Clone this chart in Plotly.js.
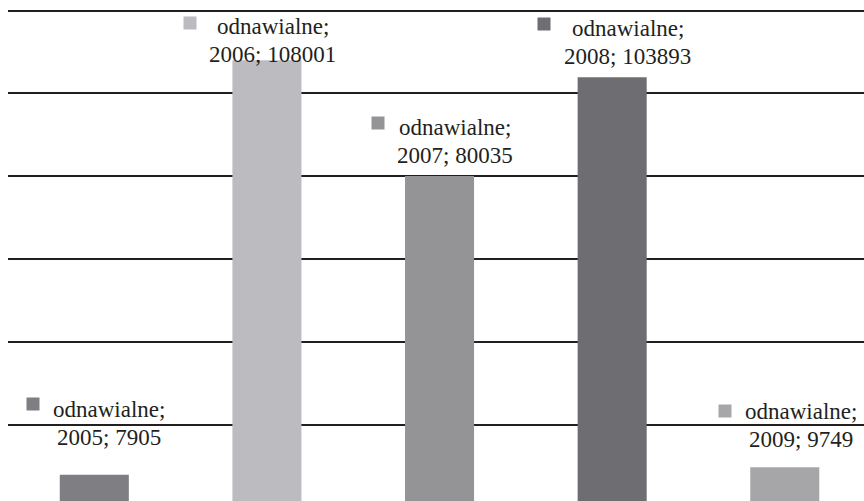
<!DOCTYPE html>
<html>
<head>
<meta charset="utf-8">
<script src="https://cdn.plot.ly/plotly-3.0.1.min.js"></script>
<style>html,body{margin:0;padding:0;overflow:hidden;background:#fff}#chart{width:864px;height:501px}</style>
</head>
<body>
<div id="chart"></div>
<script>
// Data
const categories = ['2005', '2006', '2007', '2008', '2009'];
const seriesName = 'odnawialne';
const values = [7905, 108001, 80035, 103893, 9749];
const barColors = ['#7f7f83', '#bcbcc0', '#949497', '#6e6e72', '#a6a6a9'];

// Label placement offsets (pixels, relative to bar top centre)
const textShiftX = [15, 6, 15, 15.5, 16.5];
const line1ShiftY = [65, 34, 49, 49, 56];
const line2ShiftY = [37, 6, 21, 21, 28];
const keyShiftX = [-61, -77, -62, -68, -60];
const keyShiftY = [71, 37, 53, 53, 56];

const trace = {
  type: 'bar',
  x: categories,
  y: values,
  marker: { color: barColors, line: { width: 0 } },
  hoverinfo: 'skip',
  cliponaxis: true
};

const labelFont = { family: 'Liberation Serif', size: 23, color: '#231f20' };
const annotations = [];
categories.forEach((c, i) => {
  annotations.push({
    xref: 'x', yref: 'y', x: i, y: values[i],
    text: seriesName + ';',
    showarrow: false, xanchor: 'center', yanchor: 'middle',
    xshift: textShiftX[i], yshift: line1ShiftY[i],
    font: labelFont
  });
  annotations.push({
    xref: 'x', yref: 'y', x: i, y: values[i],
    text: c + '; ' + values[i],
    showarrow: false, xanchor: 'center', yanchor: 'middle',
    xshift: textShiftX[i], yshift: line2ShiftY[i],
    font: labelFont
  });
  annotations.push({
    xref: 'x', yref: 'y', x: i, y: values[i],
    text: '', showarrow: false, xanchor: 'center', yanchor: 'middle',
    xshift: keyShiftX[i], yshift: keyShiftY[i],
    width: 12, height: 12, borderpad: 0,
    bgcolor: barColors[i]
  });
});

const layout = {
  width: 864, height: 501,
  margin: { l: 8, r: 0, t: 0, b: 0, pad: 0 },
  paper_bgcolor: '#ffffff', plot_bgcolor: '#ffffff',
  showlegend: false,
  bargap: 0.6,
  xaxis: {
    type: 'category', range: [-0.5, 4.459],
    showticklabels: false, showgrid: false, zeroline: false, showline: false, ticks: ''
  },
  yaxis: {
    range: [1570, 122560], dtick: 20000, tick0: 0,
    showgrid: true, gridcolor: '#231f20', gridwidth: 2,
    zeroline: false, showline: false, showticklabels: false, ticks: ''
  },
  annotations: annotations
};

Plotly.newPlot('chart', [trace], layout, { displayModeBar: false });
</script>
</body>
</html>
